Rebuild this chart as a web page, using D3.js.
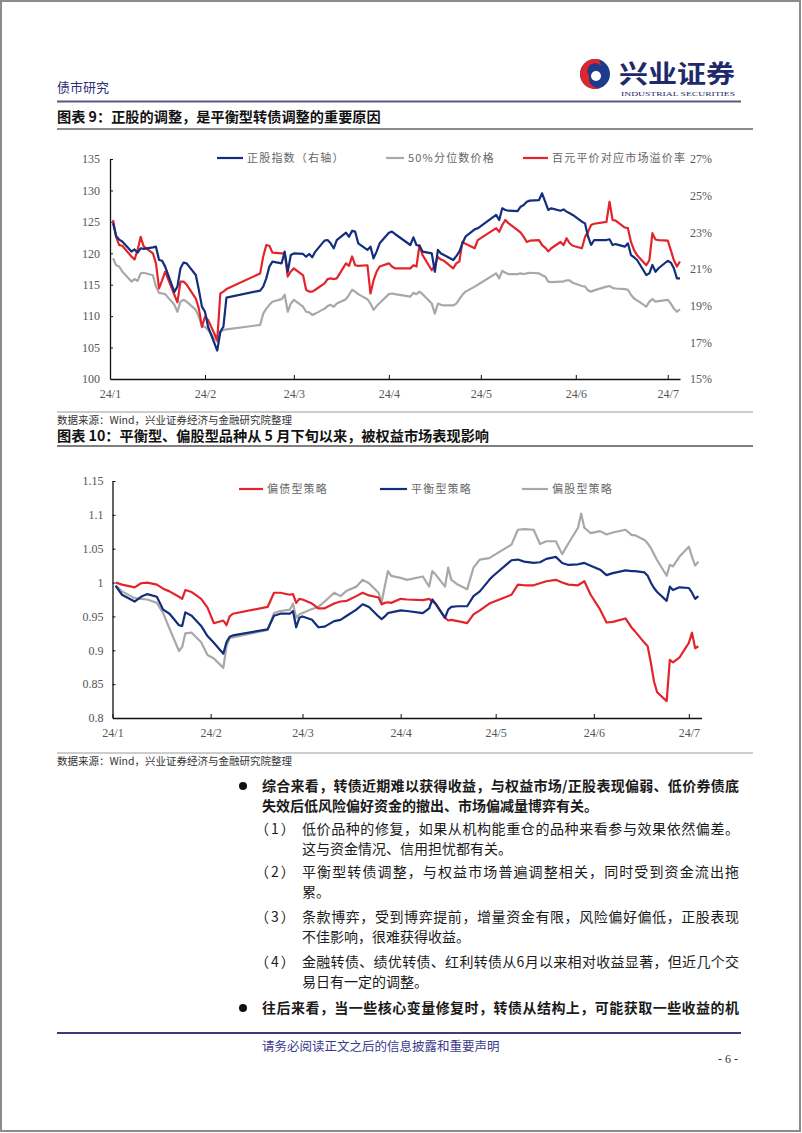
<!DOCTYPE html>
<html>
<head>
<meta charset="utf-8">
<script src="https://cdn.jsdelivr.net/npm/d3@7"></script>
<style>
  body { margin: 0; background: #fff; }
  svg { display: block; }
  .axis text { font-family: "Liberation Serif", serif; font-size: 12px; fill: #555; }
  .axis path, .axis line { stroke: #111; }
  .cn { font-family: "Noto Sans CJK SC", sans-serif; }
</style>
</head>
<body>
<svg id="page" width="802" height="1133"></svg>
<script>
// ---------- data: chart 9 ----------
const dates1 = [
  "01/02","01/03","01/04","01/05","01/08","01/09","01/10","01/11","01/12","01/15","01/16","01/17","01/18","01/19",
  "01/22","01/23","01/24","01/25","01/26","01/29","01/30","01/31",
  "02/01","02/02","02/05","02/06","02/07","02/08","02/19","02/20","02/21","02/22","02/23","02/26","02/27","02/28","02/29",
  "03/01","03/04","03/05","03/06","03/07","03/08","03/11","03/12","03/13","03/14","03/15","03/18","03/19","03/20","03/21","03/22",
  "03/25","03/26","03/27","03/28","03/29",
  "04/01","04/02","04/03","04/08","04/09","04/10","04/11","04/12","04/15","04/16","04/17","04/18","04/19",
  "04/22","04/23","04/24","04/25","04/26","04/29","04/30",
  "05/06","05/07","05/08","05/09","05/10","05/13","05/14","05/15","05/16","05/17","05/20","05/21","05/22","05/23","05/24",
  "05/27","05/28","05/29","05/30","05/31",
  "06/03","06/04","06/05","06/06","06/07","06/11","06/12","06/13","06/14","06/17","06/18","06/19","06/20","06/21",
  "06/24","06/25","06/26","06/27","06/28",
  "07/01","07/02","07/03","07/04","07/05"
];
// 正股指数（右轴, %）
const stockIndex = [
  23.5,22.8,22.6,22.5,21.95,22.07,21.89,22.13,22.1,22.18,22.22,21.49,21.45,21.13,
  19.75,20.04,21.04,21.35,21.31,20.67,19.85,18.95,
  18.67,17.85,16.55,17.58,17.85,19.44,19.82,20.04,20.49,21.13,21.4,21.31,21.95,20.85,21.76,
  21.85,21.82,21.67,21.82,21.64,21.95,22.55,22.58,22.4,22.13,22.58,22.98,22.76,23.09,23.04,22.4,
  22.04,22.22,21.58,21.95,22.4,
  22.98,23.04,22.91,22.31,22.73,22.31,22.25,21.95,21.85,20.85,22.04,21.85,21.76,
  21.49,21.7,21.95,22.4,22.76,23.16,23.22,
  23.95,23.67,24.31,24.22,24.18,24.16,24.4,24.49,24.67,24.73,24.76,25.13,24.67,24.22,24.31,
  24.18,24.25,24.13,24.04,23.95,
  23.58,23.49,22.76,22.31,22.58,22.58,22.62,22.31,22.36,22.22,22.4,21.76,21.64,21.49,
  20.67,20.76,21.22,20.85,21.04,
  21.45,21.35,21.04,20.49,20.49
];
// 50%分位数价格
const medianPrice = [
  119.2,118.1,117.9,117.1,115.5,115.9,115.6,116.8,116.9,116.5,114.7,113.7,113.6,113.5,
  111.8,110.7,112.3,112.6,112.3,111.0,109.9,108.4,
  108.3,107.8,105.9,107.5,107.8,107.9,108.6,110.4,111.2,111.8,112.3,112.7,113.4,110.7,112.0,
  112.6,111.5,110.7,110.6,110.2,110.4,111.2,111.6,111.8,111.5,112.0,112.7,113.4,114.2,113.9,113.5,
  112.7,112.0,111.0,111.6,112.1,
  113.5,113.6,113.5,113.1,113.7,113.5,113.9,113.5,112.0,110.4,112.0,111.8,111.7,
  111.7,112.0,112.7,113.4,113.9,114.7,115.0,
  116.8,116.0,117.2,116.9,116.7,116.7,116.8,116.7,116.8,116.9,116.8,116.5,116.3,115.5,115.4,
  115.5,115.5,115.7,115.7,115.3,
  114.8,114.7,114.1,113.9,114.1,114.7,114.8,114.5,114.4,114.3,114.2,113.4,112.8,112.5,
  111.5,112.3,112.7,112.3,112.4,
  112.6,112.0,111.2,110.7,111.1
];
// 百元平价对应市场溢价率
const premiumRate = [
  125.3,122.6,121.3,121.2,119.5,119.0,120.5,122.6,121.1,120.0,118.4,114.4,115.7,117.1,
  113.4,112.2,115.5,115.5,115.0,112.8,111.2,108.3,
  109.9,109.4,106.2,113.6,113.9,114.3,116.8,119.5,121.3,121.2,120.1,120.0,120.0,116.3,117.1,
  117.6,116.5,114.2,113.9,113.9,114.2,115.2,115.9,116.0,115.9,116.0,118.4,118.0,119.5,118.1,118.0,
  118.1,113.6,115.7,117.1,117.9,
  118.4,117.9,117.6,117.6,118.1,117.9,121.3,119.7,117.3,118.1,119.4,119.0,118.8,
  117.6,118.4,118.7,121.8,121.5,120.8,122.1,
  124.0,123.4,124.5,125.3,124.8,123.7,123.3,122.6,121.8,122.0,122.1,121.3,120.9,120.3,120.8,
  121.8,121.3,122.4,121.6,121.2,
  120.8,122.6,123.4,124.5,124.7,125.0,128.2,125.3,125.2,124.1,124.0,121.8,120.5,119.7,
  118.1,118.9,123.2,122.2,122.1,
  122.0,120.5,118.9,117.9,118.7
];
const leftTicks1 = [100, 105, 110, 115, 120, 125, 130, 135];
const rightTicks1 = [15, 17, 19, 21, 23, 25, 27];

// ---------- data: chart 10 ----------
const dates2 = [
  "01/02","01/04","01/08","01/10","01/12","01/15","01/17","01/19","01/22","01/23","01/24","01/26","01/29","01/31",
  "02/02","02/05","02/06","02/07","02/08","02/19","02/21","02/23","02/26","02/27","02/28","02/29",
  "03/01","03/04","03/06","03/08","03/11","03/13","03/15","03/18","03/20","03/22","03/25","03/26","03/27","03/28","03/29",
  "04/01","04/03","04/08","04/10","04/11","04/12","04/15","04/16","04/17","04/19","04/22","04/24","04/26","04/29","04/30",
  "05/06","05/08","05/10","05/13","05/15","05/17","05/20","05/22","05/24","05/27","05/28","05/29","05/31",
  "06/03","06/05","06/07","06/11","06/13","06/14","06/17","06/18","06/19","06/20","06/21","06/24","06/25","06/26","06/28",
  "07/01","07/02","07/03","07/04"
];
// 偏债型策略
const bondStrategy = [
  1.000,0.997,0.993,0.999,1.000,0.997,0.991,0.987,0.979,0.976,0.989,0.986,0.976,0.963,
  0.940,0.944,0.937,0.950,0.954,0.964,0.985,0.985,0.982,0.983,0.970,0.976,
  0.975,0.969,0.962,0.962,0.969,0.972,0.973,0.980,0.985,0.981,0.978,0.968,0.970,0.971,0.970,
  0.976,0.975,0.974,0.976,0.972,0.969,0.948,0.944,0.945,0.943,0.940,0.953,0.959,0.969,0.971,
  0.982,0.997,0.996,0.996,0.999,1.002,1.004,1.000,0.997,0.996,0.999,1.002,0.982,
  0.960,0.941,0.942,0.947,0.933,0.928,0.911,0.906,0.882,0.854,0.838,0.825,0.886,0.882,0.889,
  0.911,0.926,0.903,0.906
];
// 平衡型策略
const balancedStrategy = [
  0.995,0.982,0.972,0.979,0.983,0.979,0.960,0.954,0.937,0.936,0.956,0.951,0.936,0.921,
  0.911,0.895,0.912,0.920,0.922,0.931,0.951,0.954,0.954,0.958,0.934,0.948,
  0.950,0.945,0.934,0.935,0.943,0.945,0.951,0.960,0.968,0.964,0.950,0.946,0.950,0.955,0.956,
  0.959,0.958,0.955,0.962,0.975,0.969,0.948,0.960,0.964,0.965,0.965,0.980,0.987,1.004,1.009,
  1.033,1.034,1.031,1.029,1.030,1.035,1.038,1.029,1.026,1.027,1.028,1.029,1.025,
  1.019,1.011,1.014,1.018,1.017,1.017,1.015,1.010,1.000,0.992,0.986,0.973,0.994,0.989,0.993,
  0.992,0.985,0.976,0.980
];
// 偏股型策略
const equityStrategy = [
  0.996,0.987,0.977,0.976,0.975,0.970,0.955,0.932,0.899,0.905,0.925,0.926,0.912,0.893,
  0.888,0.874,0.906,0.918,0.919,0.930,0.955,0.958,0.960,0.969,0.948,0.953,
  0.955,0.961,0.964,0.972,0.985,0.980,0.988,0.994,1.004,0.999,0.985,0.971,0.995,1.017,1.010,
  1.007,1.004,1.009,0.994,1.017,1.012,0.994,1.022,1.004,0.997,0.990,1.022,1.034,1.036,1.039,
  1.056,1.078,1.079,1.078,1.057,1.061,1.061,1.042,1.058,1.081,1.102,1.081,1.073,
  1.076,1.071,1.074,1.078,1.070,1.070,1.063,1.058,1.051,1.042,1.033,1.010,1.026,1.024,1.038,
  1.053,1.038,1.025,1.031
];
const ticks2 = [0.8, 0.85, 0.9, 0.95, 1, 1.05, 1.1, 1.15];
const monthLabels = ["24/1", "24/2", "24/3", "24/4", "24/5", "24/6", "24/7"];

const BLUE = "#122e7c", RED = "#e3242b", GRAY = "#a8a8a8";

const parseDate = s => d3.timeParse("%Y/%m/%d")("2024/" + s);
const months = d3.timeMonth.range(new Date(2024, 0, 1), new Date(2024, 6, 2));

const svg = d3.select("#page");

// page frame
svg.append("rect")
    .attr("x", 1).attr("y", 1).attr("width", 799).attr("height", 1130)
    .attr("fill", "none").attr("stroke", "#8c8c8c").attr("stroke-width", 2);

// ---------- header ----------
svg.append("text").attr("class", "cn")
    .attr("x", 57).attr("y", 92)
    .attr("font-size", 13).attr("fill", "#2e2e78")
    .text("债市研究");

// logo swirl
const logo = svg.append("g").attr("transform", "translate(595,74)");
logo.append("circle").attr("r", 15).attr("fill", "#1d3a8c");
logo.append("path")
    .attr("d", "M4,-14.5 A15,15 0 1 0 6,13.8 A10,10 0 0 1 -6,2 A7,7 0 0 1 6,-8 Z")
    .attr("fill", "#e0262b");
logo.append("circle").attr("cx", 1).attr("cy", 2).attr("r", 5).attr("fill", "#fff");

svg.append("text").attr("class", "cn")
    .attr("x", 619).attr("y", 83)
    .attr("font-size", 25).attr("font-weight", 700).attr("fill", "#1f2a6a")
    .attr("textLength", 116).attr("lengthAdjust", "spacingAndGlyphs")
    .text("兴业证券");
svg.append("text")
    .attr("x", 621).attr("y", 96)
    .attr("font-family", "Liberation Serif, serif").attr("font-size", 7).attr("fill", "#1f2a6a")
    .attr("textLength", 114).attr("lengthAdjust", "spacingAndGlyphs")
    .text("INDUSTRIAL SECURITIES");

svg.append("line").attr("x1", 57).attr("x2", 741).attr("y1", 101.5).attr("y2", 101.5)
    .attr("stroke", "#5a5a80").attr("stroke-width", 2);

function rule(y, x2, color, w) {
    svg.append("line").attr("x1", 57).attr("x2", x2).attr("y1", y).attr("y2", y)
        .attr("stroke", color).attr("stroke-width", w);
}
function title(y, txt) {
    svg.append("text").attr("class", "cn")
        .attr("x", 57).attr("y", y)
        .attr("font-size", 14.2).attr("font-weight", 700).attr("fill", "#111")
        .text(txt);
}
function source(y) {
    svg.append("text").attr("class", "cn")
        .attr("x", 57).attr("y", y)
        .attr("font-size", 10.5).attr("fill", "#333")
        .text("数据来源：Wind，兴业证券经济与金融研究院整理");
}

title(122, "图表 9：正股的调整，是平衡型转债调整的重要原因");
rule(129, 753, "#666", 1.5);
rule(412, 753, "#9a9a9a", 1);
source(424);
title(441, "图表 10：平衡型、偏股型品种从 5 月下旬以来，被权益市场表现影响");
rule(446, 753, "#555", 1.5);
rule(753, 753, "#9a9a9a", 1);
source(765);

// ---------- generic chart helpers ----------
function styleAxis(g) {
    g.selectAll("path.domain").attr("stroke", "#111").attr("stroke-width", 1.3);
    g.selectAll(".tick line").attr("stroke", "#111");
}

function drawLegend(items, y) {
    items.forEach(it => {
        svg.append("line")
            .attr("x1", it.x).attr("x2", it.x + it.len).attr("y1", y).attr("y2", y)
            .attr("stroke", it.color).attr("stroke-width", 2.2);
        svg.append("text").attr("class", "cn")
            .attr("x", it.x + it.len + 4).attr("y", y + 4)
            .attr("font-size", 11).attr("fill", "#666")
            .attr("letter-spacing", 1.2)
            .text(it.label);
    });
}

// ---------- chart 9 ----------
const x1 = d3.scaleTime()
    .domain([new Date(2024, 0, 1), new Date(2024, 6, 5)])
    .range([110, 680]);
const yL1 = d3.scaleLinear().domain([100, 135]).range([379, 159]);
const yR1 = d3.scaleLinear().domain([15, 27]).range([379, 159]);

const g1x = svg.append("g").attr("class", "axis")
    .attr("transform", "translate(0,379)")
    .call(d3.axisBottom(x1).tickValues(months).tickSize(-4).tickSizeOuter(0)
        .tickPadding(10).tickFormat((d, i) => monthLabels[i]));
styleAxis(g1x);

const g1y = svg.append("g").attr("class", "axis")
    .attr("transform", "translate(110,0)")
    .call(d3.axisLeft(yL1).tickValues(leftTicks1).tickSize(-3).tickSizeOuter(0).tickPadding(10));
styleAxis(g1y);
g1y.selectAll(".tick").filter(d => d === 100).select("line").remove();

const g1r = svg.append("g").attr("class", "axis")
    .attr("transform", "translate(680,0)")
    .call(d3.axisRight(yR1).tickValues(rightTicks1).tickSize(0).tickPadding(10).tickFormat(d => d + "%"));
g1r.select("path.domain").remove();

const rows1 = dates1.map((d, i) => ({
    date: parseDate(d), stock: stockIndex[i], median: medianPrice[i], premium: premiumRate[i]
}));

svg.append("path").datum(rows1)
    .attr("fill", "none").attr("stroke", GRAY).attr("stroke-width", 2.2).attr("stroke-linejoin", "round")
    .attr("d", d3.line().x(d => x1(d.date)).y(d => yL1(d.median)));
svg.append("path").datum(rows1)
    .attr("fill", "none").attr("stroke", RED).attr("stroke-width", 2.2).attr("stroke-linejoin", "round")
    .attr("d", d3.line().x(d => x1(d.date)).y(d => yL1(d.premium)));
svg.append("path").datum(rows1)
    .attr("fill", "none").attr("stroke", BLUE).attr("stroke-width", 2.2).attr("stroke-linejoin", "round")
    .attr("d", d3.line().x(d => x1(d.date)).y(d => yR1(d.stock)));

drawLegend([
    { x: 217, len: 26, color: BLUE, label: "正股指数（右轴）" },
    { x: 386, len: 18, color: GRAY, label: "50%分位数价格" },
    { x: 523, len: 25, color: RED, label: "百元平价对应市场溢价率" }
], 158);

// ---------- chart 10 ----------
const x2 = d3.scaleTime()
    .domain([new Date(2024, 0, 1), new Date(2024, 6, 5)])
    .range([112.5, 701.5]);
const y2 = d3.scaleLinear().domain([0.8, 1.15]).range([718, 481]);

const g2x = svg.append("g").attr("class", "axis")
    .attr("transform", "translate(0,718)")
    .call(d3.axisBottom(x2).tickValues(months).tickSize(-4).tickSizeOuter(0)
        .tickPadding(10).tickFormat((d, i) => monthLabels[i]));
styleAxis(g2x);

const g2y = svg.append("g").attr("class", "axis")
    .attr("transform", "translate(112.5,0)")
    .call(d3.axisLeft(y2).tickValues(ticks2).tickSize(-3).tickSizeOuter(0).tickPadding(9)
        .tickFormat(d => d3.format("")(+d.toFixed(2))));
styleAxis(g2y);
g2y.selectAll(".tick").filter(d => d === 0.8).select("line").remove();

const rows2 = dates2.map((d, i) => ({
    date: parseDate(d), bond: bondStrategy[i], bal: balancedStrategy[i], eq: equityStrategy[i]
}));

[["eq", GRAY], ["bond", RED], ["bal", BLUE]].forEach(([k, c]) => {
    svg.append("path").datum(rows2)
        .attr("fill", "none").attr("stroke", c).attr("stroke-width", 2.2).attr("stroke-linejoin", "round")
        .attr("d", d3.line().x(d => x2(d.date)).y(d => y2(d[k])));
});

drawLegend([
    { x: 239, len: 24, color: RED, label: "偏债型策略" },
    { x: 380, len: 27, color: BLUE, label: "平衡型策略" },
    { x: 522, len: 26, color: GRAY, label: "偏股型策略" }
], 489);

// ---------- body text ----------
const RIGHT = 739;
function para(x, y, txt, opts = {}) {
    const t = svg.append("text").attr("class", "cn")
        .attr("x", x).attr("y", y)
        .attr("font-size", 14)
        .attr("font-weight", opts.bold ? 700 : 400)
        .attr("fill", "#1a1a1a")
        .text(txt);
    if (opts.justify) t.attr("textLength", RIGHT - x).attr("lengthAdjust", "spacing");
    return t;
}
function bullet(y) {
    svg.append("circle").attr("cx", 243).attr("cy", y - 5).attr("r", 4).attr("fill", "#111");
}

bullet(791);
para(262, 791, "综合来看，转债近期难以获得收益，与权益市场/正股表现偏弱、低价券债底", { bold: true, justify: true });
para(262, 811, "失效后低风险偏好资金的撤出、市场偏减量博弈有关。", { bold: true });

const items = [
    { label: "（1）", lines: ["低价品种的修复，如果从机构能重仓的品种来看参与效果依然偏差。", "这与资金情况、信用担忧都有关。"], y: 834 },
    { label: "（2）", lines: ["平衡型转债调整，与权益市场普遍调整相关，同时受到资金流出拖", "累。"], y: 877 },
    { label: "（3）", lines: ["条款博弈，受到博弈提前，增量资金有限，风险偏好偏低，正股表现", "不佳影响，很难获得收益。"], y: 922 },
    { label: "（4）", lines: ["金融转债、绩优转债、红利转债从6月以来相对收益显著，但近几个交", "易日有一定的调整。"], y: 967 }
];
items.forEach(it => {
    para(255, it.y, it.label).attr("letter-spacing", 2);
    para(302, it.y, it.lines[0], { justify: true });
    para(302, it.y + 20, it.lines[1]);
});

bullet(1013);
para(262, 1013, "往后来看，当一些核心变量修复时，转债从结构上，可能获取一些收益的机", { bold: true, justify: true });

// ---------- footer ----------
svg.append("line").attr("x1", 57).attr("x2", 741).attr("y1", 1033).attr("y2", 1033)
    .attr("stroke", "#3c3c7a").attr("stroke-width", 2);
svg.append("text").attr("class", "cn")
    .attr("x", 262).attr("y", 1051)
    .attr("font-size", 12.5).attr("fill", "#3a3a8c")
    .text("请务必阅读正文之后的信息披露和重要声明");
svg.append("text")
    .attr("x", 738).attr("y", 1063).attr("text-anchor", "end")
    .attr("font-family", "Liberation Serif, serif").attr("font-size", 12).attr("fill", "#333")
    .text("- 6 -");
</script>
</body>
</html>
